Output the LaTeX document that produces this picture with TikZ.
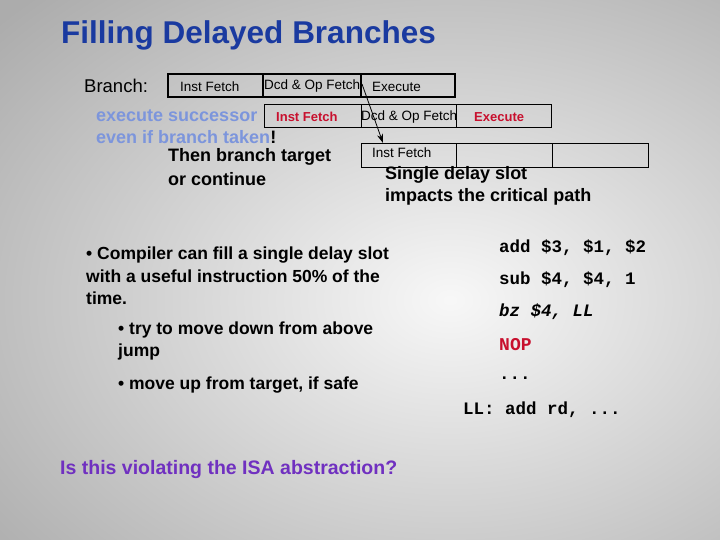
\documentclass[tikz,border=0pt]{standalone}
\usepackage{fontspec}
\setmainfont{Liberation Sans}
\newfontfamily\codefont{Liberation Mono}
\usetikzlibrary{arrows.meta}
\definecolor{titleblue}{HTML}{1A3AA0}
\definecolor{lightblue}{HTML}{7C95DC}
\definecolor{redtxt}{HTML}{C8102E}
\definecolor{purp}{HTML}{7030C0}
\begin{document}
\begin{tikzpicture}[x=1pt,y=-1pt,
  box/.style={draw=black,line width=1pt,inner sep=0pt,minimum height=23pt},
  boxA/.style={box,line width=1.6pt},
  txt/.style={anchor=west,inner sep=0pt},
  bt/.style={txt,font=\fontsize{13.5}{15}\selectfont},
  btb/.style={txt,font=\bfseries\fontsize{13}{15}\selectfont,text=redtxt},
  big/.style={txt,font=\bfseries\fontsize{18}{20}\selectfont},
  body/.style={txt,font=\bfseries\fontsize{17.5}{20}\selectfont},
  code/.style={txt,font=\codefont\bfseries\fontsize{17.5}{20}\selectfont}]
\useasboundingbox (0,0) rectangle (720,540);
\shade[inner color=gray!6, outer color=gray!65] (-150,-120) rectangle (1050,720);
\node[txt,font=\bfseries\fontsize{31.5}{34}\selectfont,text=titleblue] (title) at (61,35) {Filling Delayed Branches};
\node[txt,font=\fontsize{18.5}{20}\selectfont] (br) at (84,86) {Branch:};
% row 1
\node[boxA,minimum width=95pt] (r1a) at (215.5,85.5) {};
\node[boxA,minimum width=98pt] (r1b) at (312,85.5) {};
\node[boxA,minimum width=94pt] (r1c) at (408,85.5) {};
\node[bt] (t1a) at (180,86.5) {Inst Fetch};
\node[bt] (t1b) at (264,86.5) {Dcd \& Op Fetch};
\node[bt] (t1c) at (372,86.5) {Execute};
% row 2
\node[box,minimum width=97pt] (r2a) at (312.5,116.5) {};
\node[box,minimum width=95pt] (r2b) at (408.5,116.5) {};
\node[box,minimum width=95pt] (r2c) at (503.5,116.5) {};
\node[btb] (t2a) at (276,117) {Inst Fetch};
\node[bt] (t2b) at (361,117) {Dcd \& Op Fetch};
\node[btb] (t2c) at (474,117) {Execute};
% row 3
\node[box,minimum width=95pt,minimum height=24pt] (r3a) at (408.5,156) {};
\node[box,minimum width=96pt,minimum height=24pt] (r3b) at (504,156) {};
\node[box,minimum width=96pt,minimum height=24pt] (r3c) at (600,156) {};
\node[bt] (t3a) at (372,152.5) {Inst Fetch};
\coordinate (as) at (362,84);
\coordinate (ae) at (383,143);
\draw[-{Stealth[length=9pt,width=6pt]},line width=0.8pt] (as) -- (ae);
% left texts
\node[big,text=lightblue] (es) at (96,116) {execute successor};
\node[big] (eb) at (96,137) {\textcolor{lightblue}{even if branch taken}!};
\node[big] (tb) at (168,157) {Then branch target};
\node[big] (oc) at (168,179) {or continue};
\node[big] (sd) at (385,175) {Single delay slot};
\node[big] (ic) at (385,197) {impacts the critical path};
% bullets
\node[body] (b1) at (86,255) {• Compiler can fill a single delay slot};
\node[body] (b1b) at (86,276) {with a useful instruction 50\% of the};
\node[body] (b1c) at (86,298) {time.};
\node[body] (b2) at (118,330) {• try to move down from above};
\node[body] (b2b) at (118,352) {jump};
\node[body] (b3) at (118,385) {• move up from target, if safe};
\node[txt,font=\bfseries\fontsize{19.5}{22}\selectfont,text=purp] (q) at (60,469) {Is this violating the ISA abstraction?};
% code
\node[code] (c1) at (499,248) {add \$3, \$1, \$2};
\node[code] (c2) at (499,280) {sub \$4, \$4, 1};
\node[code,font=\codefont\bfseries\itshape\fontsize{17.5}{20}\selectfont] (c3) at (499,312) {bz \$4, LL};
\node[code,text=redtxt,font=\codefont\bfseries\fontsize{18}{20}\selectfont] (c4) at (499,345) {NOP};
\node[code] (c5) at (499,378) {...};
\node[code] (c6) at (463,410) {LL: add rd, ...};
\end{tikzpicture}
\end{document}
